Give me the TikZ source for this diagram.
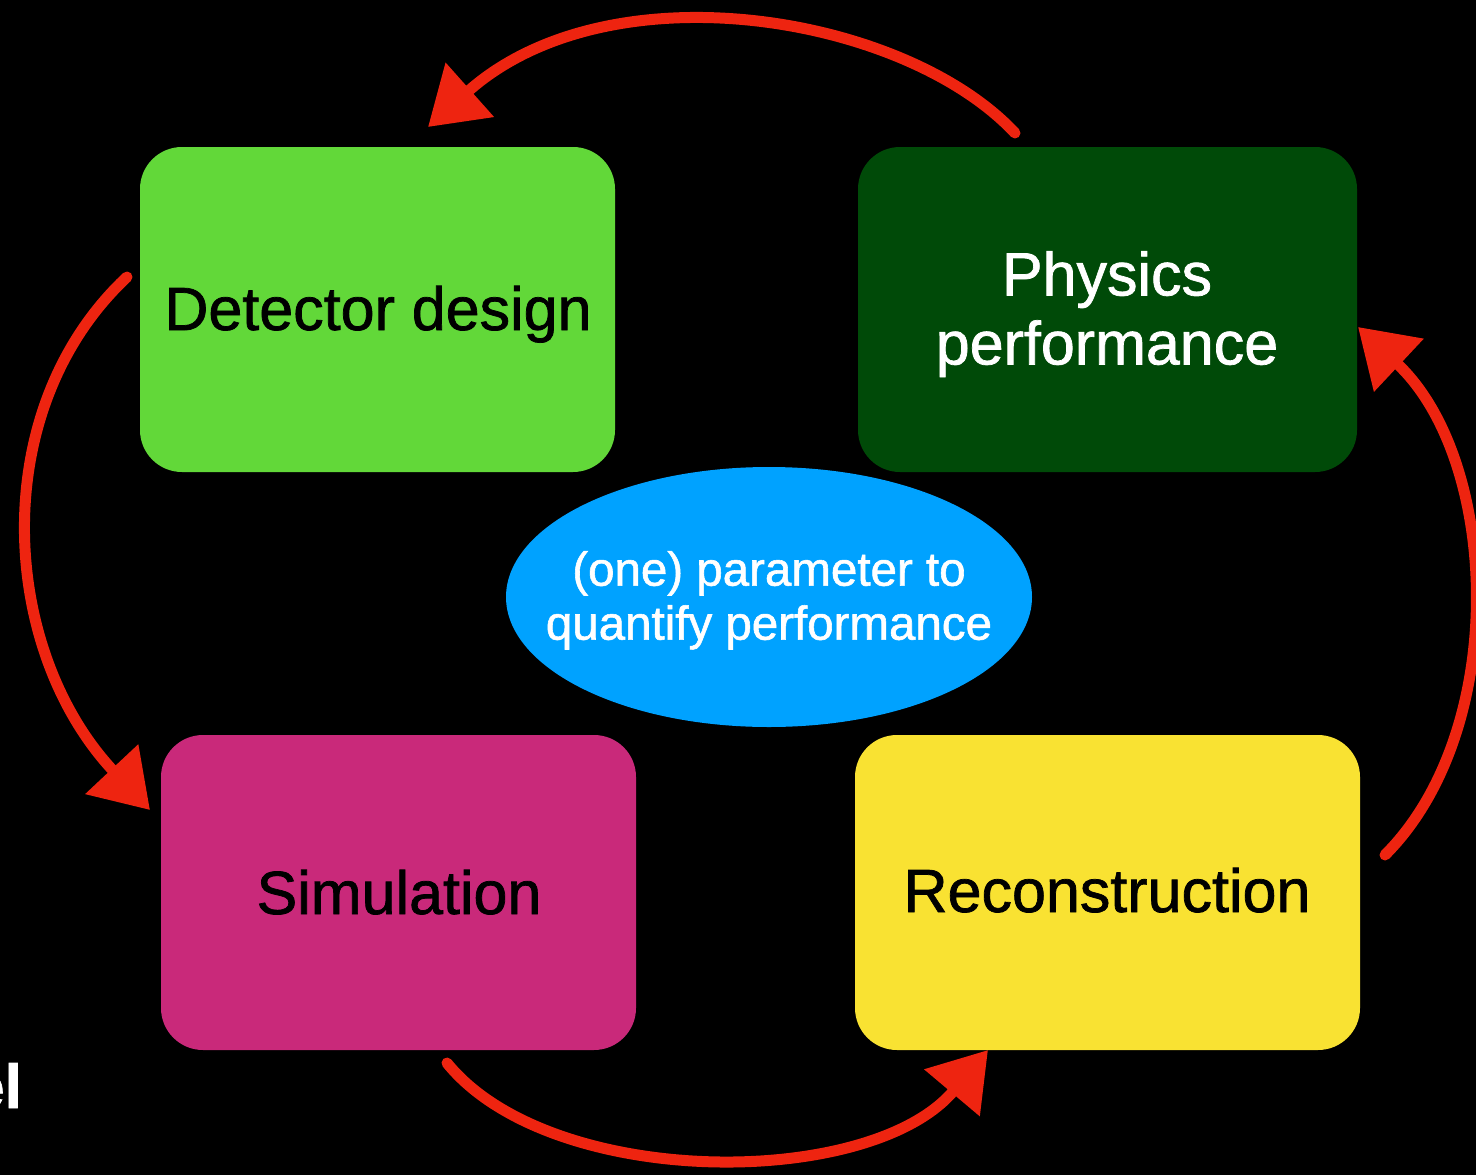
\documentclass[tikz,border=0pt]{standalone}
\usepackage{fontspec}
\setmainfont{Liberation Sans}[FakeBold=1.2]
\usetikzlibrary{shapes.geometric,arrows.meta}
\definecolor{bgreen}{RGB}{98,216,57}
\definecolor{dgreen}{RGB}{0,74,8}
\definecolor{magen}{RGB}{201,41,122}
\definecolor{yell}{RGB}{249,226,50}
\definecolor{bluel}{RGB}{0,162,255}
\definecolor{redarr}{RGB}{238,36,16}
\begin{document}
\begin{tikzpicture}[x=1pt,y=-1pt,
  box/.style={rectangle, rounded corners=42pt, inner sep=0pt},
  txt/.style={inner sep=0pt, font=\fontsize{61}{69}\selectfont, align=center},
  etxt/.style={inner sep=0pt, font=\fontsize{47.5}{54}\selectfont, align=center, text=white},
  loop/.style={draw=redarr, line width=11pt, line cap=round,
    -{Triangle[length=56pt, width=70pt, fill=redarr]}}
]
\useasboundingbox (0,0) rectangle (1476,1175);
\clip (0,0) rectangle (1476,1175);
\fill[black] (0,0) rectangle (1476,1175);

% boxes
\node[box, fill=bgreen, minimum width=475pt, minimum height=325pt] (det) at (377.5,309.5) {};
\node[box, fill=dgreen, minimum width=499pt, minimum height=325pt] (phys) at (1107.5,309.5) {};
\node[box, fill=magen, minimum width=475pt, minimum height=315pt] (sim) at (398.5,892.5) {};
\node[box, fill=yell, minimum width=505pt, minimum height=315pt] (reco) at (1107.5,892.5) {};
\node[ellipse, fill=bluel, minimum width=526pt, minimum height=260pt, inner sep=0pt] (ell) at (769,597) {};

% texts
\node[txt, text=black, anchor=base] (tdet) at (378,330) {Detector design};
\node[txt, text=white, anchor=north] (tphys) at (1107,251) {Physics\\performance};
\node[txt, text=black, anchor=base] (tsim) at (399,914) {Simulation};
\node[txt, text=black, anchor=base] (treco) at (1107,912) {Reconstruction};
\node[etxt, anchor=north] (tell) at (769,551) {(one) parameter to\\quantify performance};
\node[anchor=base east, inner sep=0pt, text=white, font=\bfseries\fontsize{62}{62}\selectfont] (elfrag) at (22,1108) {el};

% loop arrows
\coordinate (a1s) at (1015,133);
\coordinate (a1e) at (428,127);
\coordinate (a2s) at (127,277);
\coordinate (a2e) at (150,810);
\coordinate (a3s) at (447,1063);
\coordinate (a3e) at (988,1050);
\coordinate (a4s) at (1385,855);
\coordinate (a4e) at (1358,327);
\draw[loop] (a1s) .. controls (905,15) and (610,-35) .. (a1e);
\draw[loop] (a2s) .. controls (-15,410) and (0,650) .. (a2e);
\draw[loop] (a3s) .. controls (550,1190) and (870,1190) .. (a3e);
\draw[loop] (a4s) .. controls (1510,730) and (1500,460) .. (a4e);
\end{tikzpicture}
\end{document}
